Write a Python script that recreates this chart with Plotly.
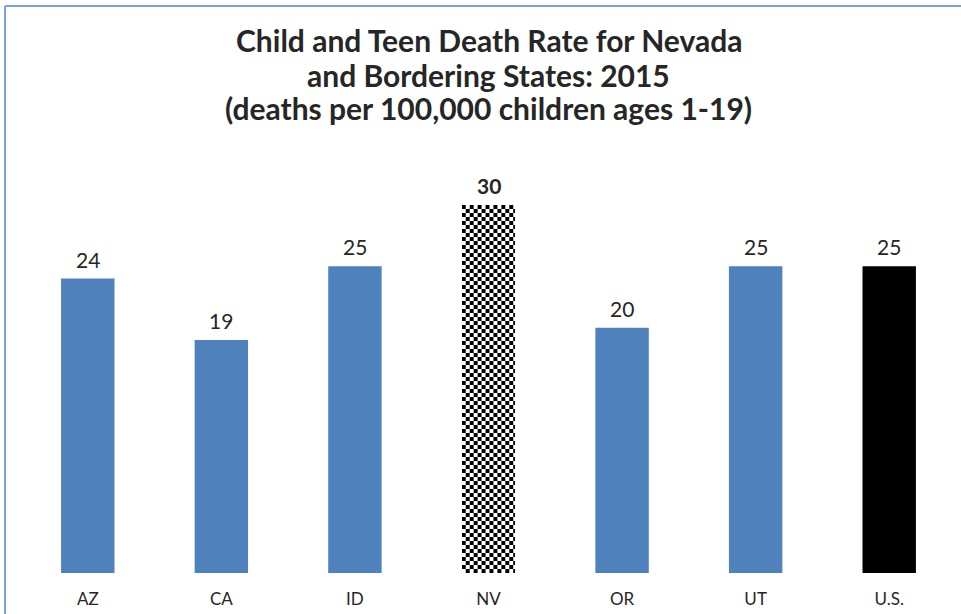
import base64
import plotly.graph_objects as go

# Child and teen death rate, deaths per 100,000 children ages 1-19 (2015)
states = ["AZ", "CA", "ID", "NV", "OR", "UT", "U.S."]
rates = [24, 19, 25, 30, 20, 25, 25]
highlight = "NV"
national = "U.S."
title_lines = [
    "Child and Teen Death Rate for Nevada",
    "and Bordering States: 2015",
    "(deaths per 100,000 children ages 1-19)",
]

BLUE = "#4F81BD"
TEXT = "#262626"
FONT = "Lato, 'Open Sans', Arial, sans-serif"

W, H = 961, 614
ml, mr, mt, mb = 21, 5, 130, 41
pw, ph = W - ml - mr, H - mt - mb


def paper_y(py):
    """Convert a pixel row (from the top of the figure) to paper y."""
    return (H - mb - py) / ph


colors = []
for s in states:
    if s == highlight:
        colors.append("white")
    elif s == national:
        colors.append("black")
    else:
        colors.append(BLUE)

fig = go.Figure(
    go.Bar(
        x=states,
        y=rates,
        marker=dict(color=colors, line=dict(width=0)),
        hoverinfo="x+y",
    )
)

# value labels above each bar
for s, v in zip(states, rates):
    fig.add_annotation(
        x=s, y=v, xref="x", yref="y",
        text=f"<b>{v}</b>" if s == highlight else str(v),
        showarrow=False, yanchor="bottom", yshift=5,
        font=dict(family=FONT, size=21, color=TEXT),
    )

# three-line bold title, spaced evenly
for line_text, py in zip(title_lines, [40, 75, 108]):
    fig.add_annotation(
        x=0.5, y=paper_y(py), xref="paper", yref="paper",
        text=f"<b>{line_text}</b>", showarrow=False,
        xanchor="center", yanchor="middle",
        font=dict(family=FONT, size=30, color=TEXT),
    )

# checkerboard fill for the highlighted state's bar
svg = (
    "<svg xmlns='http://www.w3.org/2000/svg' width='54' height='368' viewBox='0 0 54 368'>"
    "<defs><pattern id='c' width='8' height='8' patternUnits='userSpaceOnUse'>"
    "<rect width='8' height='8' fill='white'/>"
    "<rect width='4' height='4' fill='black'/>"
    "<rect x='4' y='4' width='4' height='4' fill='black'/>"
    "</pattern></defs><rect width='54' height='368' fill='url(#c)'/></svg>"
)
src = "data:image/svg+xml;base64," + base64.b64encode(svg.encode()).decode()
hv = rates[states.index(highlight)]
fig.add_layout_image(
    source=src, xref="x", yref="y", x=highlight, y=hv,
    sizex=0.4, sizey=hv, xanchor="center", yanchor="top",
    sizing="stretch", layer="above",
)

# thin blue frame along the top and left edges
bx = (5 - ml) / pw
by = paper_y(6)
line = dict(color="#7BA3D8", width=2)
fig.add_shape(type="line", xref="paper", yref="paper", x0=bx, x1=2, y0=by, y1=by, line=line)
fig.add_shape(type="line", xref="paper", yref="paper", x0=bx, x1=bx, y0=by, y1=-2, line=line)

fig.update_layout(
    width=W,
    height=H,
    margin=dict(l=ml, r=mr, t=mt, b=mb),
    paper_bgcolor="white",
    plot_bgcolor="white",
    bargap=0.6,
    showlegend=False,
    xaxis=dict(
        showline=False, showgrid=False, zeroline=False, ticks="",
        ticklabelstandoff=14,
        tickfont=dict(family=FONT, size=17, color=TEXT),
    ),
    yaxis=dict(
        range=[0, ph / (368 / 30)],
        visible=False, showgrid=False, zeroline=False,
    ),
)

fig.write_html("out.html")
